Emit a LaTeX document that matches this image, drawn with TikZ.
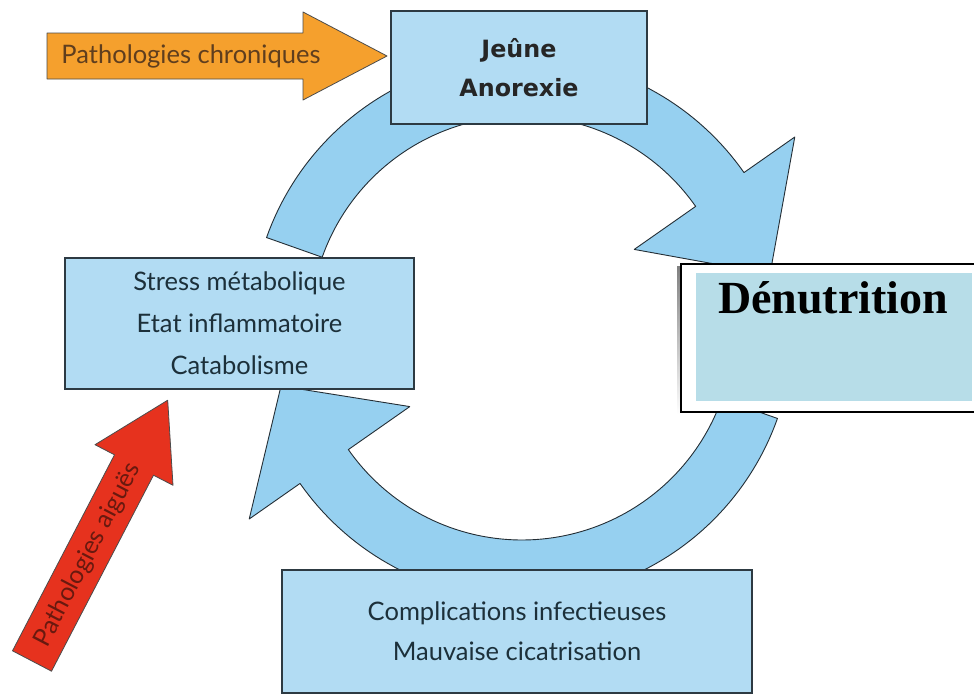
\documentclass[tikz,border=0pt]{standalone}
\usepackage{fontspec}
\setmainfont{Lato}
\newfontfamily\boldsans{DejaVu Sans}
\newfontfamily\serifbold{Liberation Serif}
\definecolor{ringfill}{RGB}{150,208,240}
\definecolor{boxfill}{RGB}{178,220,243}
\definecolor{boxline}{RGB}{45,58,66}
\definecolor{boxtext}{RGB}{28,48,58}
\definecolor{denfill}{RGB}{183,221,232}
\definecolor{orangefill}{RGB}{245,160,45}
\definecolor{orangetext}{RGB}{95,62,30}
\definecolor{redfill}{RGB}{230,50,30}
\definecolor{redtext}{RGB}{105,25,15}
\definecolor{shade}{RGB}{150,105,175}
\begin{document}
\begin{tikzpicture}[x=1pt,y=-1pt,
  ring/.style={fill=ringfill,draw=boxline!80!black,line width=0.9pt,line join=round},
  cyclebox/.style={draw=boxline,fill=boxfill,line width=1.6pt,align=center,text=boxtext,inner sep=0pt},
  blockarrow/.style={draw=black!70,line width=0.8pt,line join=round}]
\useasboundingbox (0,0) rectangle (974,696);
\clip (0,0) rectangle (974,696);
\fill[white] (0,0) rectangle (974,696);
% circular arrows
\coordinate (tipA) at (770,274);
\coordinate (tipB) at (281,386);
\filldraw[ring] plot[domain=-160.5:-35,samples=80] ({522+271*cos(\x)},{328+271*sin(\x)})
  -- ({522+333*cos(-35)},{328+333*sin(-35)}) -- (tipA)
  -- ({522+137*cos(-35)},{328+137*sin(-35)})
  -- plot[domain=-35:-160.5,samples=80] ({522+212*cos(\x)},{328+212*sin(\x)}) -- cycle;
\filldraw[ring] plot[domain=19.5:145,samples=80] ({522+271*cos(\x)},{328+271*sin(\x)})
  -- ({522+333*cos(145)},{328+333*sin(145)}) -- (tipB)
  -- ({522+137*cos(145)},{328+137*sin(145)})
  -- plot[domain=145:19.5,samples=80] ({522+212*cos(\x)},{328+212*sin(\x)}) -- cycle;
% boxes
\node[cyclebox,minimum width=256pt,minimum height=113pt,
  font=\boldsans\bfseries\fontsize{23.8}{39}\selectfont,text=black!85] (jeune) at (519,67.5) {Jeûne\\Anorexie};
\node[cyclebox,minimum width=349pt,minimum height=131pt,
  font=\fontsize{25.5}{42}\selectfont] (stress) at (239.5,323.5) {Stress métabolique\\Etat inflammatoire\\Catabolisme};
\node[cyclebox,minimum width=470pt,minimum height=123pt,
  font=\fontsize{25.5}{40}\selectfont] (compl) at (517,631.5) {Complications infectieuses\\Mauvaise cicatrisation};
% Denutrition
\fill[shade] (677,266) rectangle (681,414);
\node[draw=black,fill=white,line width=1.6pt,anchor=north west,minimum width=320pt,minimum height=148pt,inner sep=0pt] (denout) at (680,263) {};
\node[fill=denfill,anchor=north west,minimum width=276pt,minimum height=128pt,inner sep=0pt] (denin) at (696,273) {};
\node[anchor=base,font=\serifbold\bfseries\fontsize{46}{50}\selectfont,inner sep=0pt] (dentext) at (833,313) {Dénutrition};
% orange arrow
\filldraw[blockarrow,fill=orangefill] (47,33) -- (303,33) -- (303,12) -- (387,56) -- (303,100) -- (303,79) -- (47,79) -- cycle;
\node[font=\fontsize{25.5}{28}\selectfont,text=orangetext,inner sep=0pt] (chron) at (191,56) {Pathologies chroniques};
% red arrow
\filldraw[blockarrow,fill=redfill] (12.5,650.8) -- (114.5,454.8) -- (95,444.7) -- (167.7,400.2) -- (173,485.3) -- (153.5,475.2) -- (51.5,671.2) -- cycle;
\node[font=\fontsize{25}{28}\selectfont,text=redtext,rotate=62.5,inner sep=0pt] (aigu) at (88,555) {Pathologies aiguës};
\end{tikzpicture}
\end{document}
